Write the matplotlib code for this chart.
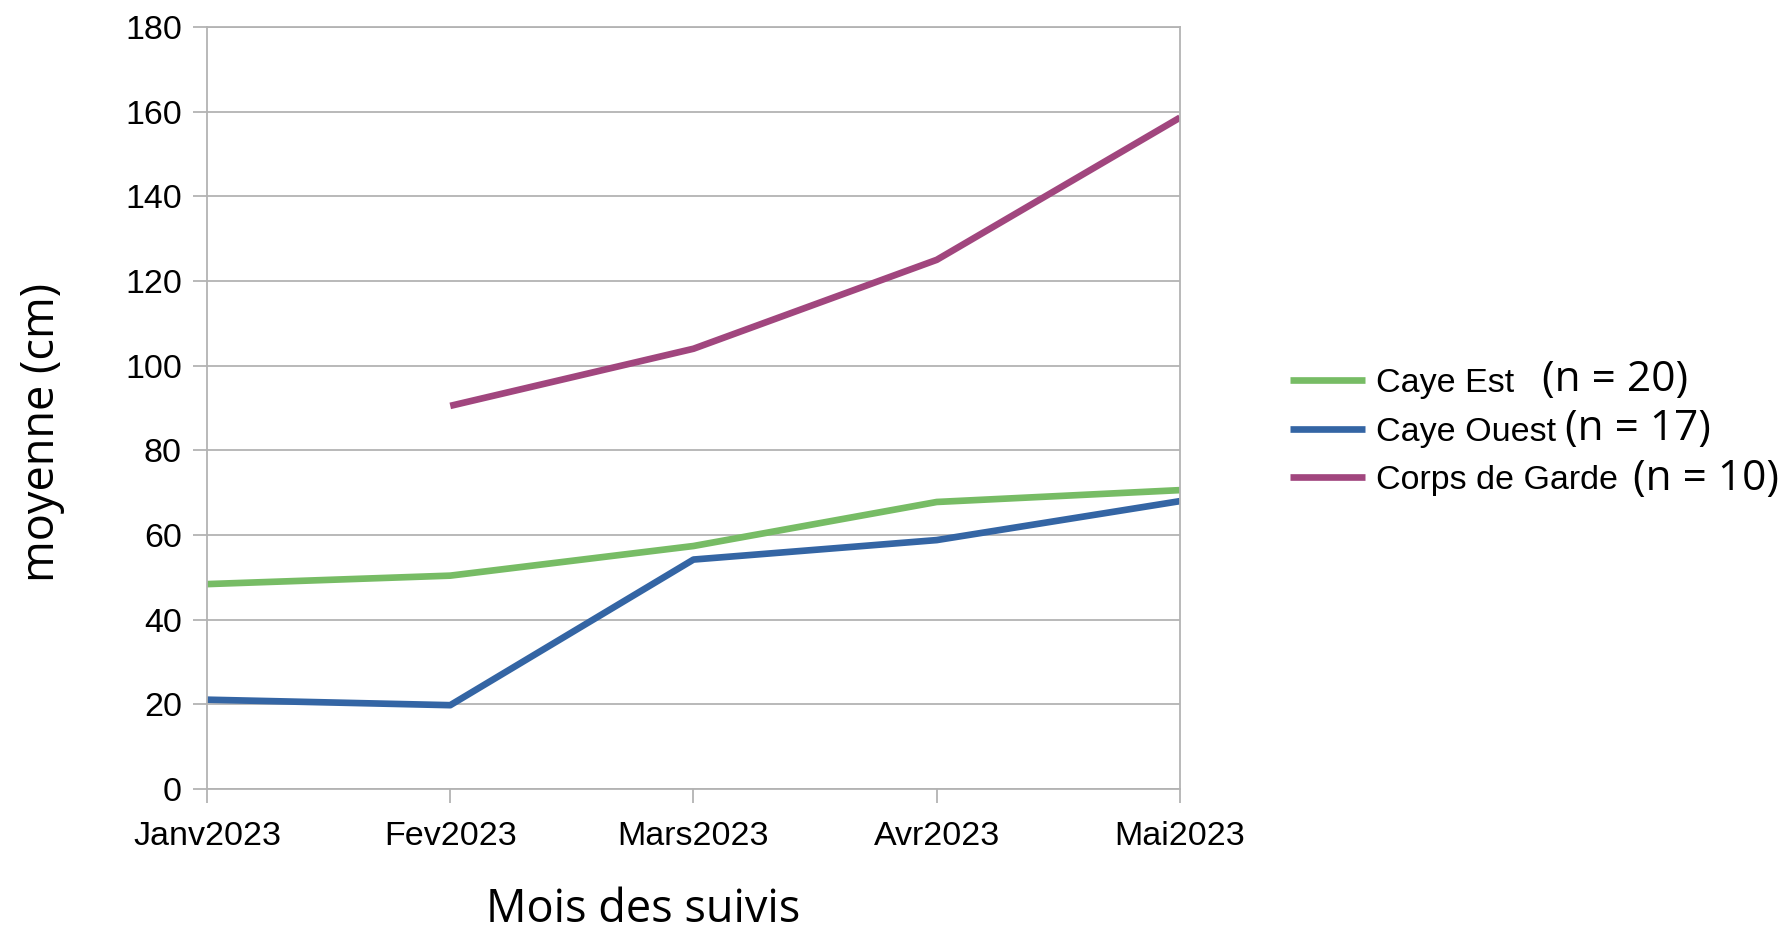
import numpy as np
import matplotlib
matplotlib.use("Agg")
import matplotlib.pyplot as plt

months = ["Janv2023", "Fev2023", "Mars2023", "Avr2023", "Mai2023"]
caye_est = [48.4, 50.4, 57.4, 67.8, 70.6]
caye_ouest = [21.1, 19.8, 54.2, 58.8, 68.0]
corps_de_garde = [np.nan, 90.5, 104.0, 125.0, 158.6]

series_names = ["Caye Est", "Caye Ouest", "Corps de Garde"]
series_n = ["(n = 20)", "(n = 17)", "(n = 10)"]
colors = ["#77bc65", "#3465a4", "#a1467e"]

W, H = 1783, 933
fig = plt.figure(figsize=(W / 100, H / 100), dpi=100)
ax = fig.add_axes([207 / W, 1 - 789 / H, (1180 - 207) / W, (789 - 27) / H])

x = np.arange(len(months))
for vals, name, col in zip([caye_est, caye_ouest, corps_de_garde], series_names, colors):
    ax.plot(x, vals, color=col, linewidth=4.8, label=name, solid_capstyle="butt")

grid_col = "#b3b3b3"
ax.set_xlim(0, len(months) - 1)
ax.set_ylim(0, 180)
ax.set_yticks(np.arange(0, 181, 20))
ax.set_xticks(x)
ax.set_xticklabels(months)
ax.yaxis.grid(True, color=grid_col, linewidth=1.3)
ax.set_axisbelow(True)
for s in ax.spines.values():
    s.set_color(grid_col)
    s.set_linewidth(1.3)
ax.tick_params(axis="both", length=10, width=1.3, color=grid_col,
               labelsize=24.5, pad=8)
ax.tick_params(axis="x", pad=13)
for lab in ax.get_xticklabels() + ax.get_yticklabels():
    lab.set_family("Liberation Sans")

label_font = {"fontsize": 32.5, "family": "Open Sans", "color": "black"}
ax.set_ylabel("moyenne (cm)", **label_font)
ax.yaxis.set_label_coords((42 - 207) / (1180 - 207), (789 - 432) / 762)
ax.set_xlabel("Mois des suivis", **label_font)
ax.xaxis.set_label_coords((643 - 207) / (1180 - 207), -(910 - 789) / 762)
ax.xaxis.label.set_verticalalignment("center")
ax.yaxis.label.set_verticalalignment("center")

leg = ax.legend(loc="center left", bbox_to_anchor=(1290 / W, 1 - 432 / H),
                bbox_transform=fig.transFigure, frameon=False,
                prop={"family": "Liberation Sans", "size": 24.5},
                handlelength=2.2, handletextpad=0.33, labelspacing=0.52,
                borderpad=0, borderaxespad=0)

n_x = [1542, 1565, 1633]
n_y = [380, 429, 479]
for txt, px, py in zip(series_n, n_x, n_y):
    fig.text(px / W, 1 - py / H, txt, fontsize=30.5, family="Open Sans",
             color="black", va="center", ha="left")

fig.savefig("out.png", dpi=100)
